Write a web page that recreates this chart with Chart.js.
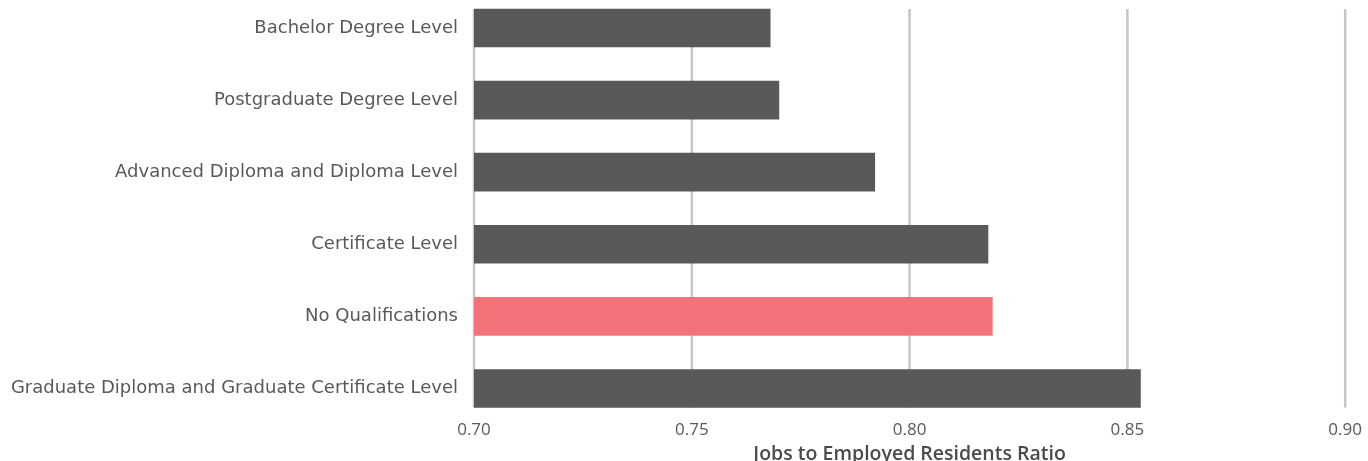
<!DOCTYPE html>
<html>
<head>
<meta charset="utf-8">
<script src="https://cdn.jsdelivr.net/npm/chart.js@4"></script>
<style>
  body { margin: 0; background: #fff; }
  #wrap { position: relative; width: 1368px; height: 461px; }
</style>
</head>
<body>
<div id="wrap"><canvas id="ratioChart"></canvas></div>
<script>
// Qualification levels, top to bottom
const categories = [
  'Bachelor Degree Level',
  'Postgraduate Degree Level',
  'Advanced Diploma and Diploma Level',
  'Certificate Level',
  'No Qualifications',
  'Graduate Diploma and Graduate Certificate Level'
];
// Jobs to employed residents ratio per level
const ratios = [0.768, 0.770, 0.792, 0.818, 0.819, 0.853];
// Level shown in the highlight colour
const highlighted = 'No Qualifications';
const xTicks = [0.70, 0.75, 0.80, 0.85, 0.90];

const DARK = '#58595b';
const PINK = '#f2737a';
const GRID = '#c6c6c8';
const TEXT = '#595959';
const FONT = "'Open Sans', sans-serif";

// Vertical lines at each x tick, only as tall as the bars
const barGrid = {
  id: 'barGrid',
  beforeDatasetsDraw(chart) {
    const bars = chart.getDatasetMeta(0).data;
    if (!bars.length) return;
    const first = bars[0], last = bars[bars.length - 1];
    const top = first.y - first.height / 2;
    const bottom = last.y + last.height / 2;
    const x = chart.scales.x;
    const ctx = chart.ctx;
    ctx.save();
    ctx.strokeStyle = GRID;
    ctx.lineWidth = 2.5;
    x.ticks.forEach(t => {
      const px = x.getPixelForValue(t.value);
      ctx.beginPath();
      ctx.moveTo(px, top);
      ctx.lineTo(px, bottom);
      ctx.stroke();
    });
    ctx.restore();
  }
};

const ctx = document.getElementById('ratioChart').getContext('2d');
new Chart(ctx, {
  type: 'bar',
  data: {
    datasets: [{
      data: ratios.map((v, i) => ({ x: v, y: i })),
      backgroundColor: categories.map(c => c === highlighted ? PINK : DARK),
      barThickness: 38,
      borderWidth: 0
    }]
  },
  options: {
    indexAxis: 'y',
    responsive: true,
    maintainAspectRatio: false,
    animation: false,
    layout: { padding: { top: 0, right: 22, bottom: 0, left: 0 } },
    plugins: { legend: { display: false }, tooltip: { enabled: false } },
    scales: {
      x: {
        type: 'linear',
        min: xTicks[0],
        max: xTicks[xTicks.length - 1],
        afterBuildTicks: s => { s.ticks = xTicks.map(v => ({ value: v })); },
        afterFit: s => { s.height = 47; },
        grid: { display: false, drawTicks: false },
        border: { display: false },
        ticks: {
          padding: 6,
          color: TEXT,
          font: { family: FONT, size: 17 },
          callback: v => Number(v).toFixed(2)
        },
        title: {
          display: true,
          text: 'Jobs to Employed Residents Ratio',
          color: '#4a4a4a',
          font: { family: FONT, size: 19.5, weight: '600', lineHeight: 1 },
          padding: { top: 3, bottom: -3 }
        }
      },
      y: {
        type: 'linear',
        reverse: true,
        offset: false,
        min: -0.388,
        max: 5.354,
        afterFit: s => { s.width = 474; s.paddingTop = 0; s.paddingBottom = 0; },
        grid: { display: false, drawTicks: false, offset: false },
        border: { display: false },
        ticks: {
          stepSize: 1,
          includeBounds: false,
          autoSkip: false,
          padding: 16,
          color: TEXT,
          font: { family: "'DejaVu Sans', sans-serif", size: 18 },
          callback: v => categories[v] ?? ''
        }
      }
    }
  },
  plugins: [barGrid]
});
</script>
</body>
</html>
